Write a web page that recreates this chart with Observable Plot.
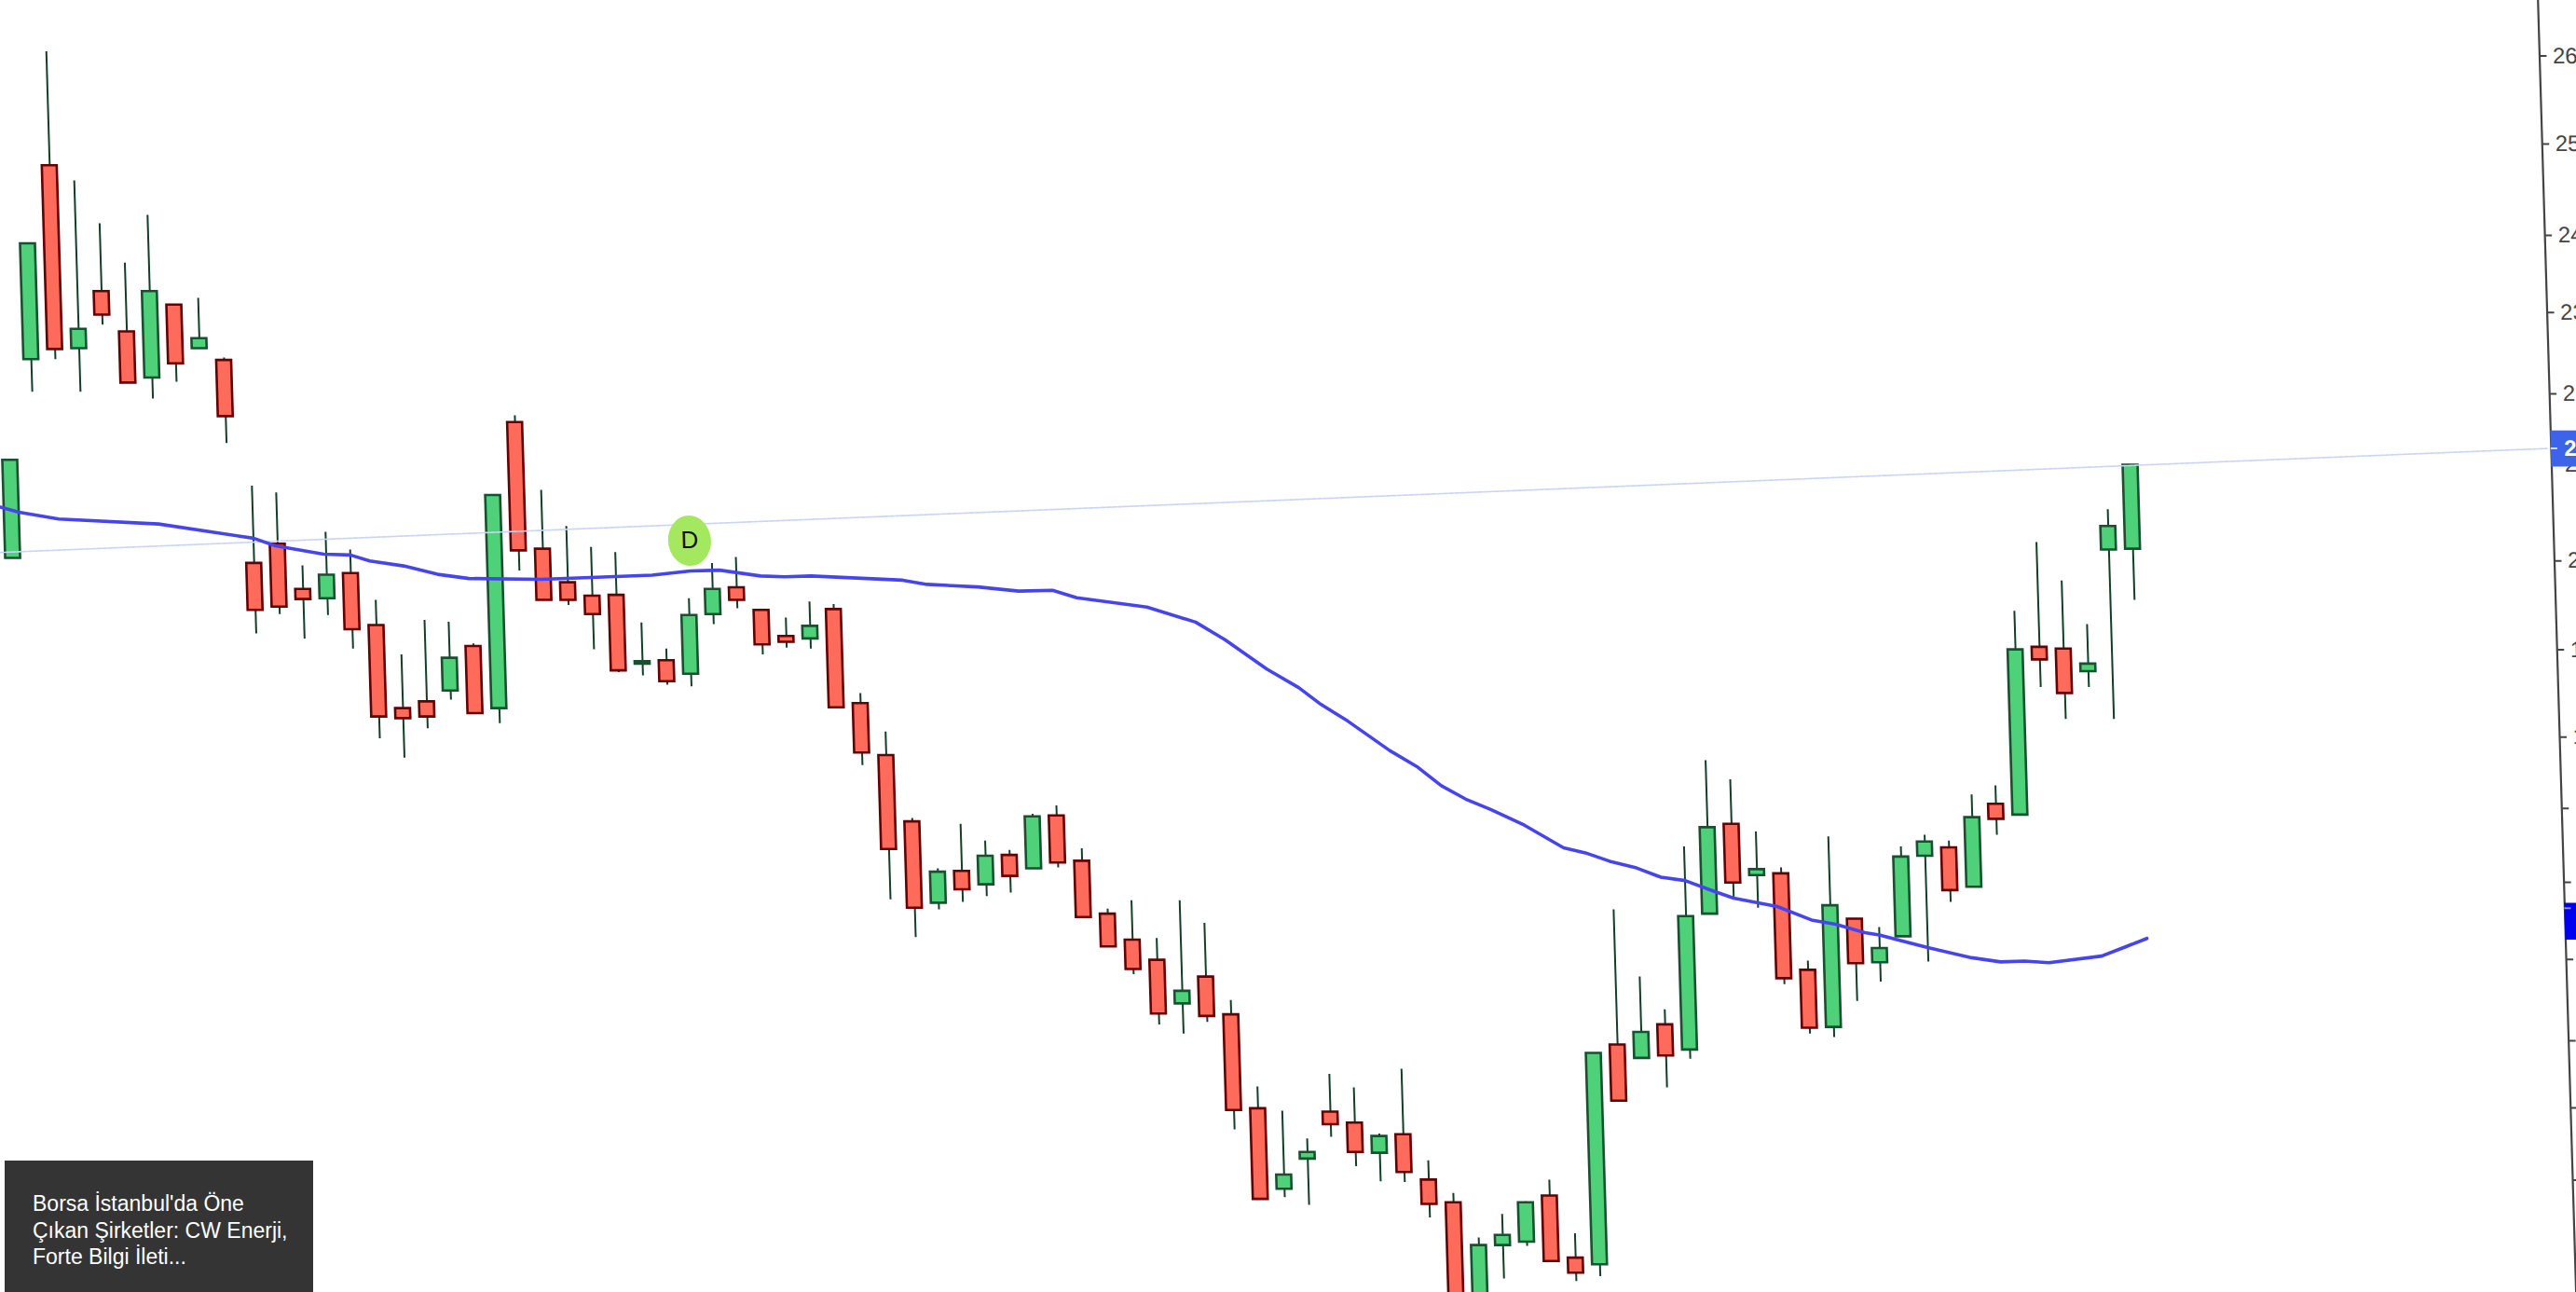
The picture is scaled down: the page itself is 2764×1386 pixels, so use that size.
<!DOCTYPE html>
<html lang="tr">
<head>
<meta charset="utf-8">
<title>Candlestick chart</title>
<script src="https://cdn.jsdelivr.net/npm/d3@7"></script>
<script src="https://cdn.jsdelivr.net/npm/@observablehq/plot@0.6"></script>
<style>
  html, body { margin: 0; padding: 0; background: #fff; width: 2764px; height: 1386px; overflow: hidden; }
  #chart { position: absolute; left: 0; top: 0; width: 2764px; height: 1386px; overflow: hidden; }
  #news { position: absolute; left: 5px; top: 1245px; width: 331px; height: 141px; background: #343434; color: #fff;
          font: 23px/28.5px "Liberation Sans", Arial, sans-serif; box-sizing: border-box; padding: 32px 0 0 30px; white-space: nowrap; }
</style>
</head>
<body>
<div id="chart"></div>
<div id="news">Borsa İstanbul'da Öne<br>Çıkan Şirketler: CW Enerji,<br>Forte Bilgi İleti...</div>
<script>
const highs = [21.17,23.75,26.04,24.50,23.99,23.52,24.09,23.02,23.10,22.39,
  20.86,20.78,19.91,20.31,20.10,19.50,18.85,19.26,19.24,18.98,
  20.75,21.70,20.81,20.38,20.13,20.07,19.23,18.92,19.52,19.94,
  20.01,19.38,19.29,19.48,19.45,18.39,17.93,16.90,16.30,16.83,
  16.63,16.52,16.95,17.05,16.54,15.82,15.92,15.47,15.92,15.65,
  14.73,13.70,13.41,13.08,13.85,13.69,13.14,13.91,12.82,12.43,
  11.90,12.18,12.33,12.59,11.95,14.10,15.81,15.01,14.62,16.56,
  17.59,17.36,16.74,16.31,15.20,16.68,15.70,15.60,16.56,16.70,
  16.63,17.18,17.29,19.37,20.19,19.73,19.21,20.58,21.11];
const lows = [20.00,21.98,22.37,21.98,22.78,22.09,21.90,22.10,22.50,21.37,
  19.10,19.33,19.04,19.32,18.92,17.85,17.62,17.97,18.31,18.14,
  18.03,19.85,19.50,19.44,18.91,18.64,18.60,18.49,18.47,19.21,
  19.40,18.85,18.93,18.92,18.22,17.53,15.93,15.48,15.81,15.90,
  15.97,16.01,16.30,16.31,15.72,15.37,15.04,14.44,14.33,14.47,
  13.19,12.36,12.38,12.29,13.10,12.75,12.57,12.56,12.14,11.00,
  11.00,11.41,11.80,11.62,11.38,11.44,13.53,14.04,13.69,14.03,
  15.76,15.95,15.83,14.92,14.33,14.29,14.72,14.95,15.49,15.19,
  15.90,16.08,16.70,16.94,18.46,18.08,18.46,18.08,19.50];
const opens = [20.00,22.37,24.68,22.50,23.18,22.70,22.15,23.02,22.50,22.36,
  19.94,20.17,19.63,19.52,19.82,19.20,18.21,18.29,18.42,18.95,
  18.21,21.62,20.11,19.71,19.55,19.56,18.74,18.78,18.62,19.33,
  19.65,19.38,19.07,19.04,19.39,18.27,17.65,16.86,15.89,16.27,
  16.11,16.46,16.30,16.93,16.39,15.76,15.45,15.21,14.69,15.01,
  14.56,13.44,12.48,12.84,13.40,13.27,12.91,13.13,12.59,12.32,
  11.10,11.81,11.85,12.40,11.66,11.58,14.20,14.04,14.44,14.14,
  15.76,16.83,16.22,16.24,15.09,14.41,15.70,15.18,15.49,16.45,
  16.55,16.08,17.07,16.94,18.94,18.92,18.65,20.10,20.11];
const closes = [21.17,23.75,22.49,22.73,22.90,22.09,23.18,22.32,22.62,21.69,
  19.38,19.42,19.51,19.80,19.15,18.11,18.09,18.11,18.81,18.15,
  20.75,20.09,19.50,19.50,19.33,18.66,18.77,18.53,19.32,19.63,
  19.50,18.97,19.00,19.19,18.22,17.68,16.53,15.83,16.26,16.05,
  16.45,16.21,16.92,16.37,15.72,15.37,15.10,14.57,14.84,14.54,
  13.42,12.36,12.65,12.92,13.25,12.92,13.11,12.68,12.30,11.10,
  11.81,11.93,12.32,11.62,11.48,14.10,13.53,14.35,14.07,15.73,
  16.79,16.13,16.29,14.99,14.40,15.86,15.17,15.35,16.44,16.62,
  16.04,16.91,16.89,18.91,18.79,18.39,18.74,20.38,21.11];

const maIndex = [-0.47,0.3,1.94,6.08,10,10.9,12.9,14,14.8,16.2,17.6,18.9,21.9,26.5,28.1,29.3,31,32,33.1,36.9,37.9,40,41.7,43.1,44.1,47,49,50.2,51.9,53.2,54.1,55.2,56.9,58,59,60,61,62.4,64,64.9,65.9,67,68,69,70.2,71,72.8,74.2,75.2,76.4,77,79,80.8,82,83,84,86.2,87.2,88.1];
const maValues = [20.61,20.55,20.47,20.41,20.24,20.15,20.05,20.04,19.97,19.91,19.81,19.76,19.75,19.80,19.85,19.86,19.79,19.78,19.79,19.74,19.69,19.66,19.61,19.62,19.53,19.42,19.24,19.03,18.68,18.46,18.26,18.06,17.71,17.52,17.29,17.13,17.01,16.82,16.55,16.49,16.39,16.31,16.20,16.16,16.03,15.95,15.85,15.69,15.64,15.54,15.51,15.36,15.24,15.19,15.20,15.18,15.26,15.37,15.47];

const trendIndex = [-0.53, 105.3];
const trendValues = [20.07, 21.31];

const axisTicks = [25.99,24.94,23.85,22.93,21.96,21.12,19.97,18.91,17.87,17.02,16.14,15.22,14.25,13.45,12.59];
const axisLabels = ["26","25","24","23","22","21","20","19","18","17","16","15","14","13","12"];
const axisIndex = 105.48;
const priceBadge = {y1: 21.09, y2: 21.52, value: 21.31, label: "21.11"};
const otherBadge = {y1: 15.45, y2: 15.89, tick: 15.83};
const marker = {i: 28.1, p: 20.21, label: "D"};

const candles = opens.map((o, i) => ({i, open: o, close: closes[i], high: highs[i], low: lows[i], up: closes[i] > o}));
const hw = 0.31;
const ellipse = {draw(ctx) {
  const rx = 23, ry = 27, kx = rx * 0.5523, ky = ry * 0.5523;
  ctx.moveTo(-rx, 0);
  ctx.bezierCurveTo(-rx, -ky, -kx, -ry, 0, -ry);
  ctx.bezierCurveTo(kx, -ry, rx, -ky, rx, 0);
  ctx.bezierCurveTo(rx, ky, kx, ry, 0, ry);
  ctx.bezierCurveTo(-kx, ry, -rx, ky, -rx, 0);
  ctx.closePath();
}};

const plot = Plot.plot({
  width: 2764, height: 1386,
  marginTop: 0, marginBottom: 0, marginLeft: 0, marginRight: 41.3,
  x: {domain: [0.1586, axisIndex], range: [0, 2722.7], axis: null},
  y: {domain: [11.25, 26.65], range: [1386, 0], axis: null},
  style: {overflow: "visible", background: "transparent", maxWidth: "none",
          fontFamily: "'Liberation Sans', Arial, sans-serif",
          transform: "matrix(1,0,0.0295,1,0,0)", transformOrigin: "0 0"},
  marks: [
    Plot.ruleX(candles, {x: "i", y1: "low", y2: "high", stroke: "#123f28", strokeWidth: 2}),
    Plot.rect(candles, {
      x1: d => d.i - hw, x2: d => d.i + hw, y1: "open", y2: "close",
      fill: d => d.up ? "#4fd17a" : "#ff6b5b",
      stroke: d => d.up ? "#17512f" : "#660000", strokeWidth: 2.6
    }),
    Plot.line(trendIndex.map((x, k) => ({x, y: trendValues[k]})), {x: "x", y: "y", stroke: "#c8d5f8", strokeWidth: 1.6, strokeDasharray: "1.5 0.8"}),
    Plot.line(maIndex.map((x, k) => ({x, y: maValues[k]})), {x: "x", y: "y", stroke: "#4644ee", strokeWidth: 3.6}),
    Plot.dot([marker], {x: "i", y: "p", symbol: ellipse, fill: "#a4e85f", stroke: "none"}),
    Plot.text([marker], {x: "i", y: "p", text: "label", fontSize: 26, fontWeight: 500, fill: "#111"}),
    Plot.ruleX([axisIndex], {stroke: "#444", strokeWidth: 2.2}),
    Plot.axisY(axisTicks, {
      anchor: "right", tickSize: 7, tickPadding: 7, fontSize: 24, color: "#444", strokeWidth: 2,
      tickFormat: d => axisLabels[axisTicks.indexOf(d)], label: null
    }),
    Plot.rect([priceBadge], {x1: axisIndex, x2: 112, y1: "y1", y2: "y2", fill: "#3d63e8"}),
    Plot.ruleY([priceBadge.value], {x1: axisIndex, x2: axisIndex + 0.27, stroke: "#cdd8ff", strokeWidth: 2}),
    Plot.text([priceBadge], {x: axisIndex, y: "value", text: "label", dx: 14, textAnchor: "start", fontSize: 24, fontWeight: 700, fill: "#fff"}),
    Plot.rect([otherBadge], {x1: axisIndex, x2: 112, y1: "y1", y2: "y2", fill: "#0000ee"}),
    Plot.ruleY([otherBadge.tick], {x1: axisIndex, x2: axisIndex + 0.27, stroke: "#8f8ff7", strokeWidth: 2})
  ]
});
document.getElementById("chart").appendChild(plot);
</script>
</body>
</html>
